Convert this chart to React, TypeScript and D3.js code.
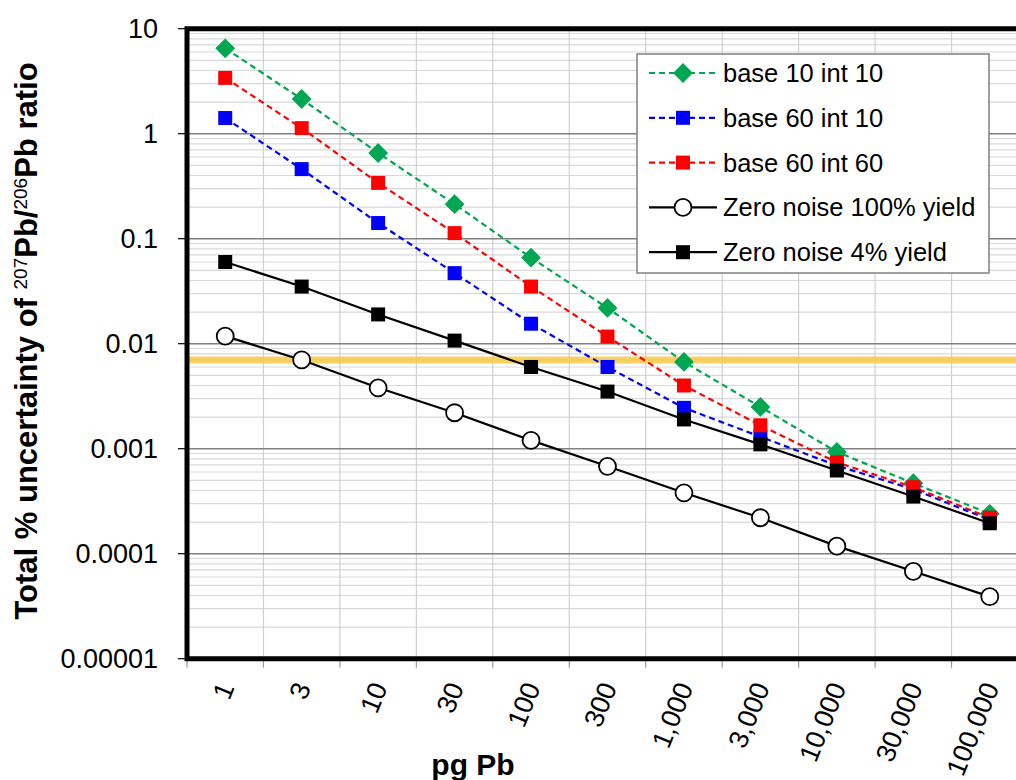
import React, { useEffect, useRef } from 'react';
import * as d3 from 'd3';

const categories = ['1', '3', '10', '30', '100', '300', '1,000', '3,000', '10,000', '30,000', '100,000'];

const base10int10 = [6.5, 2.14, 0.655, 0.213, 0.066, 0.0219, 0.0067, 0.0025, 0.00093, 0.00047, 0.00024];
const base60int10 = [1.41, 0.46, 0.141, 0.047, 0.0155, 0.006, 0.00245, 0.0013, 0.00069, 0.00041, 0.00021];
const base60int60 = [3.4, 1.13, 0.34, 0.113, 0.035, 0.0117, 0.004, 0.00167, 0.00074, 0.00043, 0.00022];
const zeroNoise100 = [0.0118, 0.007, 0.0038, 0.0022, 0.0012, 0.00068, 0.00038, 0.00022, 0.000118, 0.000068, 0.000039];
const zeroNoise4 = [0.06, 0.035, 0.019, 0.0107, 0.006, 0.0035, 0.0019, 0.0011, 0.00062, 0.00035, 0.000195];

const yTicks = [10, 1, 0.1, 0.01, 0.001, 0.0001, 0.00001];
const yTickLabels = ['10', '1', '0.1', '0.01', '0.001', '0.0001', '0.00001'];
const thresholdValue = 0.007;

const series = [
  { name: 'base 10 int 10', values: base10int10, color: '#00a651', dashed: true, marker: 'diamond' },
  { name: 'base 60 int 10', values: base60int10, color: '#0000ff', dashed: true, marker: 'square' },
  { name: 'base 60 int 60', values: base60int60, color: '#ff0000', dashed: true, marker: 'square' },
  { name: 'Zero noise 100% yield', values: zeroNoise100, color: '#000000', dashed: false, marker: 'circle' },
  { name: 'Zero noise 4% yield', values: zeroNoise4, color: '#000000', dashed: false, marker: 'square' },
];

const FONT = '"Liberation Sans", Arial, sans-serif';

const drawMarker = (g, type, x, y, color) => {
  if (type === 'diamond') {
    g.append('path')
      .attr('d', d3.symbol().type(d3.symbolDiamond2).size(250)())
      .attr('transform', `translate(${x},${y})`)
      .attr('fill', color);
  } else if (type === 'square') {
    g.append('rect')
      .attr('x', x - 7)
      .attr('y', y - 7)
      .attr('width', 14)
      .attr('height', 14)
      .attr('fill', color);
  } else {
    g.append('circle')
      .attr('cx', x)
      .attr('cy', y)
      .attr('r', 8.5)
      .attr('fill', '#fff')
      .attr('stroke', '#000')
      .attr('stroke-width', 1.8);
  }
};

const UncertaintyChart = () => {
  const svgRef = useRef(null);

  useEffect(() => {
    const svg = d3.select(svgRef.current);
    svg.selectAll('*').remove();

    const left = 187;
    const right = 1028;
    const top = 28.7;
    const bottom = 658.7;

    const x = d3.scaleBand().domain(categories).range([left, right]);
    const y = d3.scaleLog().domain([1e-5, 10]).range([bottom, top]);
    const cx = d => x(d) + x.bandwidth() / 2;

    const grid = svg.append('g');

    // minor horizontal gridlines
    const minors = [];
    for (let e = -5; e < 1; e++) {
      for (let m = 2; m <= 9; m++) minors.push(m * Math.pow(10, e));
    }
    grid.selectAll('.minor')
      .data(minors)
      .enter()
      .append('line')
      .attr('x1', left)
      .attr('x2', right)
      .attr('y1', d => y(d))
      .attr('y2', d => y(d))
      .attr('stroke', '#d9d9d9')
      .attr('stroke-width', 1.2);

    // vertical gridlines at category boundaries
    grid.selectAll('.vgrid')
      .data(categories.slice(1))
      .enter()
      .append('line')
      .attr('x1', d => x(d))
      .attr('x2', d => x(d))
      .attr('y1', top)
      .attr('y2', bottom)
      .attr('stroke', '#d0d0d0')
      .attr('stroke-width', 1.2);

    grid.selectAll('.major')
      .data(yTicks.slice(1, -1))
      .enter()
      .append('line')
      .attr('x1', left)
      .attr('x2', right)
      .attr('y1', d => y(d))
      .attr('y2', d => y(d))
      .attr('stroke', '#808080')
      .attr('stroke-width', 1.4);

    // threshold band
    svg.append('line')
      .attr('x1', left)
      .attr('x2', right)
      .attr('y1', y(thresholdValue))
      .attr('y2', y(thresholdValue))
      .attr('stroke', '#f7c948')
      .attr('stroke-opacity', 0.85)
      .attr('stroke-width', 7);

    // y ticks and labels
    const yAxis = svg.append('g');
    yTicks.forEach((t, i) => {
      yAxis.append('line')
        .attr('x1', left - 9)
        .attr('x2', left)
        .attr('y1', y(t))
        .attr('y2', y(t))
        .attr('stroke', '#000')
        .attr('stroke-width', 1.2);
      yAxis.append('text')
        .attr('x', 158)
        .attr('y', y(t))
        .attr('dy', '0.35em')
        .attr('text-anchor', 'end')
        .style('font-family', FONT)
        .style('font-size', '27px')
        .text(yTickLabels[i]);
    });

    // x ticks and labels
    const xAxis = svg.append('g');
    categories.forEach(c => {
      xAxis.append('line')
        .attr('x1', x(c))
        .attr('x2', x(c))
        .attr('y1', bottom)
        .attr('y2', bottom + 9)
        .attr('stroke', '#999')
        .attr('stroke-width', 1.2);
      xAxis.append('text')
        .attr('transform', `translate(${cx(c) + 1},${bottom + 25}) rotate(-68)`)
        .attr('text-anchor', 'end')
        .attr('dy', '0.35em')
        .style('font-family', FONT)
        .style('font-size', '27px')
        .text(c);
    });

    // series lines and markers
    series.forEach(s => {
      const line = d3.line()
        .x((d, i) => cx(categories[i]))
        .y(d => y(d));
      svg.append('path')
        .datum(s.values)
        .attr('d', line)
        .attr('fill', 'none')
        .attr('stroke', s.color)
        .attr('stroke-width', 2.2)
        .attr('stroke-dasharray', s.dashed ? '6,4' : null);
    });
    series.forEach(s => {
      const g = svg.append('g');
      s.values.forEach((v, i) => drawMarker(g, s.marker, cx(categories[i]), y(v), s.color));
    });

    // plot border (top, left, bottom)
    svg.append('path')
      .attr('d', `M${right},${top}H${left}V${bottom}H${right}`)
      .attr('fill', 'none')
      .attr('stroke', '#000')
      .attr('stroke-width', 5);

    // legend
    const legend = svg.append('g');
    legend.append('rect')
      .attr('x', 637)
      .attr('y', 54)
      .attr('width', 352)
      .attr('height', 219)
      .attr('fill', '#fff')
      .attr('stroke', '#808080')
      .attr('stroke-width', 1.5);
    series.forEach((s, i) => {
      const ly = 73 + i * 44.8;
      legend.append('line')
        .attr('x1', 649)
        .attr('x2', 717)
        .attr('y1', ly)
        .attr('y2', ly)
        .attr('stroke', s.color)
        .attr('stroke-width', 2.2)
        .attr('stroke-dasharray', s.dashed ? '6,4' : null);
      drawMarker(legend, s.marker, 683, ly, s.color);
      legend.append('text')
        .attr('x', 723)
        .attr('y', ly)
        .attr('dy', '0.35em')
        .style('font-family', FONT)
        .style('font-size', '25.5px')
        .text(s.name);
    });

    // axis titles
    svg.append('text')
      .attr('x', 473)
      .attr('y', 775)
      .attr('text-anchor', 'middle')
      .style('font-family', FONT)
      .style('font-size', '30px')
      .style('font-weight', 'bold')
      .text('pg Pb');

    const yTitle = svg.append('text')
      .attr('transform', 'translate(37,341) rotate(-90)')
      .attr('text-anchor', 'middle')
      .style('font-family', FONT)
      .style('font-size', '31px')
      .style('font-weight', 'bold');
    yTitle.append('tspan').text('Total % uncertainty of ');
    yTitle.append('tspan').attr('baseline-shift', 'super').style('font-size', '19px').style('font-weight', 'normal').text('207');
    yTitle.append('tspan').text('Pb/');
    yTitle.append('tspan').attr('baseline-shift', 'super').style('font-size', '19px').style('font-weight', 'normal').text('206');
    yTitle.append('tspan').text('Pb ratio');
  }, []);

  return (
    <svg
      ref={svgRef}
      width={1016}
      height={780}
      style={{ position: 'absolute', left: 0, top: 0, background: '#fff' }}
    />
  );
};

export default function App() {
  return <UncertaintyChart />;
}
